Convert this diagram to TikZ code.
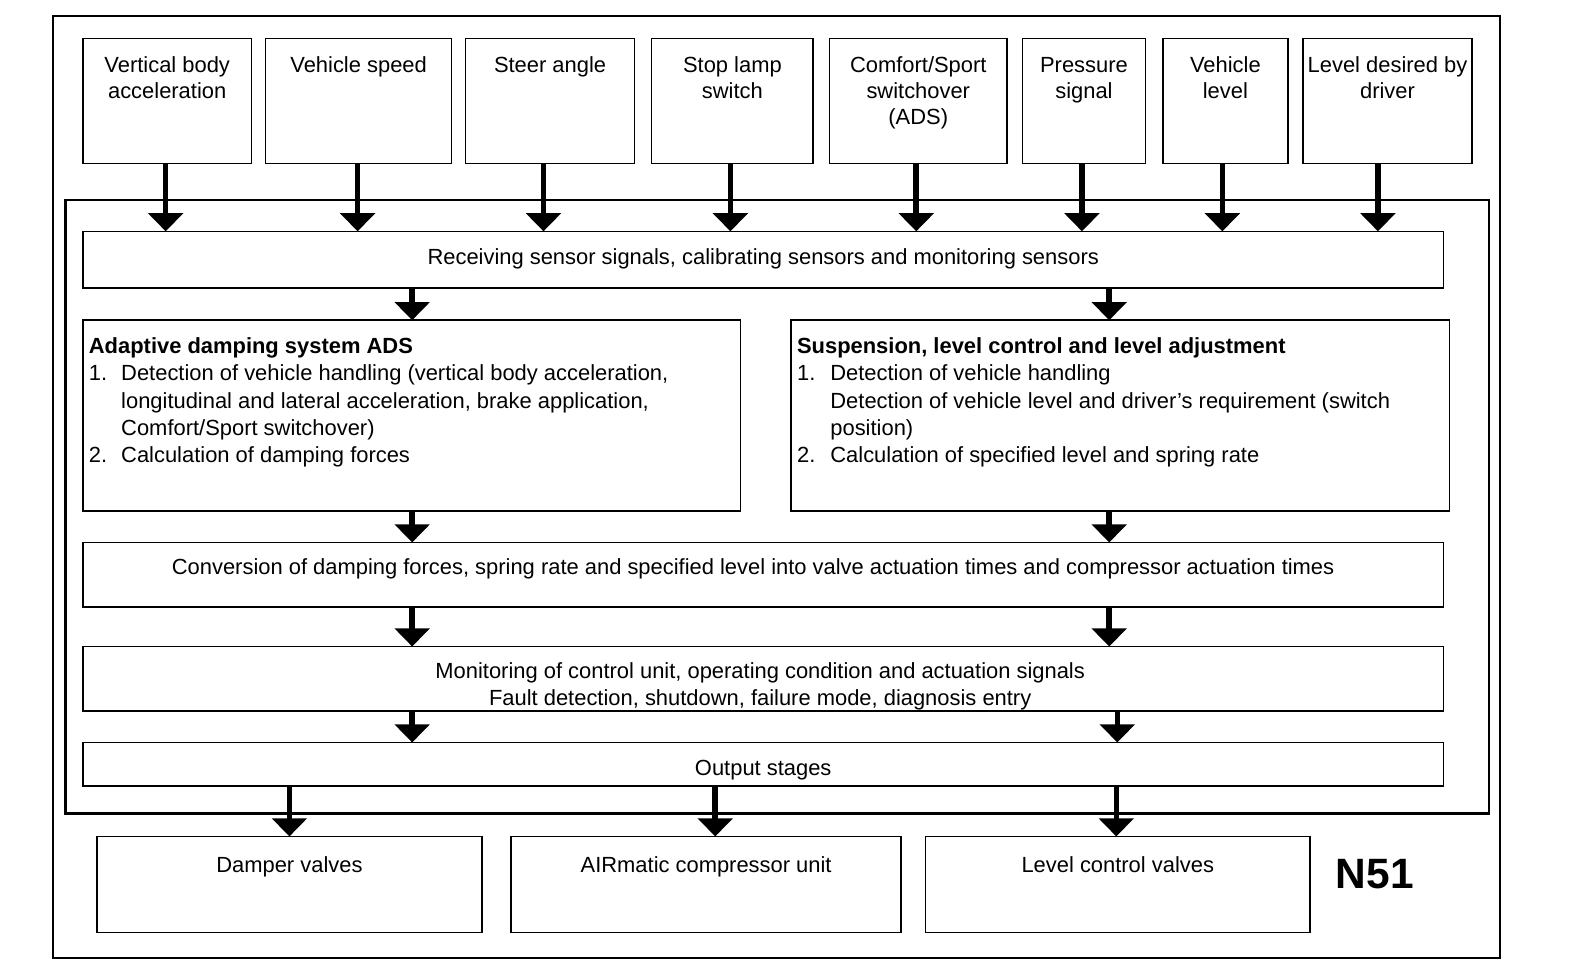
\documentclass[tikz,border=0pt]{standalone}
\usepackage{fontspec}
\setmainfont{Liberation Sans}
\usetikzlibrary{arrows.meta,calc}
\newcommand\fs{\fontsize{21.7}{25.5}\selectfont}
\newcommand\fsl{\fontsize{21.7}{27}\selectfont}
\newcommand\tp{\rule{0pt}{16pt}}
\newcommand\mybox[6][]{\node[box,#1,anchor=north west,minimum width={(#5)-(#3)},minimum height={(#6)-(#4)}] (#2) at (#3,#4) {};}
\tikzset{
  box/.style={draw=black,line width=1.5pt,inner sep=0pt,outer sep=0pt,fill=none},
  arr/.style={line width=5.5pt,-{Triangle[length=18pt,width=34pt]}},
  lbl/.style={font=\fs,inner sep=0pt,outer sep=0pt,align=center},
  lst/.style={font=\fsl,inner sep=0pt,outer sep=0pt,align=left,anchor=north west},
}
\begin{document}
\begin{tikzpicture}[x=1pt,y=-1pt]
\useasboundingbox[fill=white] (0,0) rectangle (1568,956);
% frames
\mybox[line width=2pt]{outer}{52}{16}{1485}{948}
\mybox[line width=2.8pt]{inner}{65}{198}{1474}{805}
% input boxes
\mybox{b1}{82}{38}{249}{162}
\mybox{b2}{263}{38}{447}{162}
\mybox{b3}{461}{38}{628}{162}
\mybox{b4}{645}{38}{805}{162}
\mybox{b5}{821}{38}{997}{162}
\mybox{b6}{1012}{38}{1134}{162}
\mybox{b7}{1151}{38}{1275}{162}
\mybox{b8}{1290}{38}{1457}{162}
\node[lbl,anchor=north] (t1) at ([yshift=-18pt]b1.north) {\tp Vertical body\\ acceleration};
\node[lbl,anchor=north] (t2) at ([yshift=-18pt]b2.north) {\tp Vehicle speed};
\node[lbl,anchor=north] (t3) at ([yshift=-18pt]b3.north) {\tp Steer angle};
\node[lbl,anchor=north] (t4) at ([yshift=-18pt]b4.north) {\tp Stop lamp\\switch};
\node[lbl,anchor=north] (t5) at ([yshift=-18pt]b5.north) {\tp Comfort/Sport\\switchover\\(ADS)};
\node[lbl,anchor=north] (t6) at ([yshift=-18pt]b6.north) {\tp Pressure\\signal};
\node[lbl,anchor=north] (t7) at ([yshift=-18pt]b7.north) {\tp Vehicle\\level};
\node[lbl,anchor=north] (t8) at ([yshift=-18pt]b8.north) {\tp Level desired by\\driver};
% processing boxes
\mybox{recv}{82}{229}{1429}{285}
\mybox{ads}{82}{317}{733}{506}
\mybox{susp}{783}{317}{1435}{506}
\mybox{conv}{82}{537}{1429}{601}
\mybox{mon}{82}{640}{1429}{704}
\mybox{outs}{82}{735}{1429}{778}
\node[lbl,anchor=base] (trecv) at ([yshift=-33pt]recv.north) {Receiving sensor signals, calibrating sensors and monitoring sensors};
\node[lst] (tads) at ([xshift=6pt,yshift=-17pt]ads.north west) {\tp\textbf{Adaptive damping system ADS}\\
\makebox[32pt][l]{1.}Detection of vehicle handling (vertical body acceleration,\\
\hspace*{32pt}longitudinal and lateral acceleration, brake application,\\
\hspace*{32pt}Comfort/Sport switchover)\\
\makebox[32pt][l]{2.}Calculation of damping forces};
\node[lst] (tsusp) at ([xshift=6pt,yshift=-17pt]susp.north west) {\tp\textbf{Suspension, level control and level adjustment}\\
\makebox[33pt][l]{1.}Detection of vehicle handling\\
\hspace*{33pt}Detection of vehicle level and driver's requirement (switch\\
\hspace*{33pt}position)\\
\makebox[33pt][l]{2.}Calculation of specified level and spring rate};
\node[lbl,anchor=base] (tconv) at ([xshift=-10pt,yshift=-32pt]conv.north) {Conversion of damping forces, spring rate and specified level into valve actuation times and compressor actuation times};
\node[lbl,anchor=base] (tmon1) at ([xshift=-3pt,yshift=-32pt]mon.north) {Monitoring of control unit, operating condition and actuation signals};
\node[lbl,anchor=base] (tmon2) at ([xshift=-3pt,yshift=-58pt]mon.north) {Fault detection, shutdown, failure mode, diagnosis entry};
\node[lbl,anchor=base] (touts) at ([yshift=-33pt]outs.north) {Output stages};
% output boxes
\mybox{damp}{96}{828}{477}{923}
\mybox{air}{506}{828}{892}{923}
\mybox{lcv}{916}{828}{1297}{923}
\node[lbl,anchor=base] (tdamp) at ([yshift=-36pt]damp.north) {Damper valves};
\node[lbl,anchor=base] (tair) at ([yshift=-36pt]air.north) {AIRmatic compressor unit};
\node[lbl,anchor=base] (tlcv) at ([yshift=-36pt]lcv.north) {Level control valves};
\node[inner sep=0pt,font=\fontsize{42}{46}\selectfont\bfseries] (n51) at (1361,865) {N51};
% column coordinates
\coordinate (cl) at (408,0);
\coordinate (cr) at (1098,0);
\coordinate (cr2) at (1106,0);
% input arrows
\draw[arr] ([xshift=-1.5pt]b1.south) -- ([xshift=-1.5pt]b1.south |- recv.north);
\draw[arr] ([xshift=-1pt]b2.south) -- ([xshift=-1pt]b2.south |- recv.north);
\draw[arr] ([xshift=-6.5pt]b3.south) -- ([xshift=-6.5pt]b3.south |- recv.north);
\draw[arr] ([xshift=-2pt]b4.south) -- ([xshift=-2pt]b4.south |- recv.north);
\draw[arr] ([xshift=-2pt]b5.south) -- ([xshift=-2pt]b5.south |- recv.north);
\draw[arr] ([xshift=-2pt]b6.south) -- ([xshift=-2pt]b6.south |- recv.north);
\draw[arr] ([xshift=-3pt]b7.south) -- ([xshift=-3pt]b7.south |- recv.north);
\draw[arr] ([xshift=-9.5pt]b8.south) -- ([xshift=-9.5pt]b8.south |- recv.north);
% internal arrows
\draw[arr] (recv.south -| cl) -- (ads.north -| cl);
\draw[arr] (recv.south -| cr) -- (susp.north -| cr);
\draw[arr] (ads.south -| cl) -- (conv.north -| cl);
\draw[arr] (susp.south -| cr) -- (conv.north -| cr);
\draw[arr] (conv.south -| cl) -- (mon.north -| cl);
\draw[arr] (conv.south -| cr) -- (mon.north -| cr);
\draw[arr] (mon.south -| cl) -- (outs.north -| cl);
\draw[arr] (mon.south -| cr2) -- (outs.north -| cr2);
% output arrows
\draw[arr] (outs.south -| damp.north) -- (damp.north);
\draw[arr] ([xshift=9pt]outs.south -| air.north) -- ([xshift=9pt]air.north);
\draw[arr] ([xshift=-1.5pt]outs.south -| lcv.north) -- ([xshift=-1.5pt]lcv.north);
\end{tikzpicture}
\end{document}
